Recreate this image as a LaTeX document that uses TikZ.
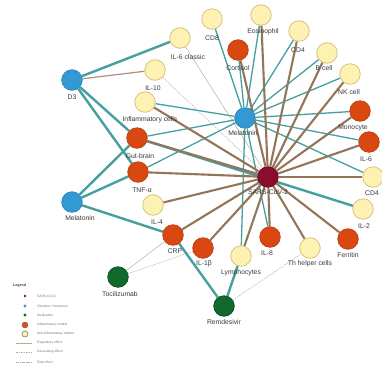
\documentclass[tikz,border=0pt]{standalone}
\usepackage{fontspec}
\setmainfont{Liberation Sans}
\usetikzlibrary{backgrounds}
\definecolor{tealc}{HTML}{45A09F}
\definecolor{brownc}{HTML}{93765A}
\definecolor{thinc}{HTML}{B8AE9E}
\definecolor{yelf}{HTML}{FDF2B2}
\definecolor{yeld}{HTML}{D8C27E}
\definecolor{oranf}{HTML}{DA4812}
\definecolor{orand}{HTML}{C2400F}
\definecolor{bluef}{HTML}{3399D5}
\definecolor{blued}{HTML}{2D88BE}
\definecolor{maroonf}{HTML}{8A0C2E}
\definecolor{greenf}{HTML}{11692B}
\definecolor{labc}{HTML}{3A3A3A}
\begin{document}
\begin{tikzpicture}[x=1pt,y=-1pt,
  nd/.style={circle,minimum size=20.5pt,inner sep=0pt,line width=0.8pt},
  yel/.style={nd,fill=yelf,draw=yeld},
  ora/.style={nd,fill=oranf,draw=orand},
  blu/.style={nd,fill=bluef,draw=blued},
  cov/.style={nd,fill=maroonf,draw=maroonf!80!black},
  grn/.style={nd,fill=greenf,draw=greenf!80!black},
  lab/.style={text=labc,font=\fontsize{6.8}{7.5}\selectfont,inner sep=0.5pt},
  leg/.style={text=labc!70,font=\fontsize{3.3}{4}\selectfont,inner sep=0pt,anchor=west},
  te/.style={draw=tealc,line width=2.4pt},
  tem/.style={draw=tealc,line width=1.3pt},
  br/.style={draw=brownc,line width=2.1pt},
  thn/.style={draw=thinc,line width=0.5pt},
  dsh/.style={draw=thinc,line width=0.5pt,dash pattern=on 1.5pt off 1pt}]
\useasboundingbox (0,0) rectangle (382,368);
% nodes
\node[cov] (cov) at (268,177) {};
\node[blu] (vb) at (245,118) {};
\node[blu] (d3) at (72,80) {};
\node[blu] (mel) at (72,202) {};
\node[grn] (toc) at (118,277) {};
\node[grn] (rem) at (224,306) {};
\node[yel] (il6c) at (180,38) {};
\node[yel] (il10) at (155,70) {};
\node[yel] (infl) at (145,102) {};
\node[yel] (cd8) at (212,19) {};
\node[yel] (eos) at (261,15) {};
\node[yel] (cd4a) at (299,31) {};
\node[yel] (bcell) at (327,53) {};
\node[yel] (nk) at (350,74) {};
\node[yel] (cd4b) at (373,177) {};
\node[yel] (il2) at (363,209) {};
\node[yel] (th) at (310,248) {};
\node[yel] (lym) at (241,256) {};
\node[yel] (il4) at (153,205) {};
\node[ora] (cort) at (238,50) {};
\node[ora] (mono) at (360,111) {};
\node[ora] (il6) at (369,142) {};
\node[ora] (ferr) at (348,239) {};
\node[ora] (il8) at (270,237) {};
\node[ora] (il1b) at (203,248) {};
\node[ora] (crp) at (173,235) {};
\node[ora] (tnf) at (138,172) {};
\node[ora] (gut) at (137,138) {};
% labels
\node[lab] (l-cov) at (268,192) {SARS-CoV-2};
\node[lab] (l-vb) at (243,133) {Melatonin};
\node[lab] (l-d3) at (72,97) {D3};
\node[lab] (l-mel) at (80,218) {Melatonin};
\node[lab] (l-toc) at (120,294) {Tocilizumab};
\node[lab] (l-rem) at (224,322) {Remdesivir};
\node[lab] (l-il6c) at (188,57) {IL-6 classic};
\node[lab] (l-il10) at (153,88) {IL-10};
\node[lab] (l-infl) at (150,120) {Inflammatory cells};
\node[lab] (l-cd8) at (212,38) {CD8};
\node[lab] (l-eos) at (263,32) {Eosinophil};
\node[lab] (l-cd4a) at (298,50) {CD4};
\node[lab] (l-bcell) at (324,68) {B cell};
\node[lab] (l-nk) at (349,92) {NK cell};
\node[lab] (l-cd4b) at (372,193) {CD4};
\node[lab] (l-il2) at (364,226) {IL-2};
\node[lab] (l-th) at (310,264) {Th helper cells};
\node[lab] (l-lym) at (241,273) {Lymphocytes};
\node[lab] (l-il4) at (157,222) {IL-4};
\node[lab] (l-cort) at (238,68) {Cortisol};
\node[lab] (l-mono) at (353,128) {Monocyte};
\node[lab] (l-il6) at (366,159) {IL-6};
\node[lab] (l-ferr) at (348,255) {Ferritin};
\node[lab] (l-il8) at (267,253) {IL-8};
\node[lab] (l-il1b) at (204,264) {IL-1β};
\node[lab] (l-crp) at (175,251) {CRP};
\node[lab] (l-tnf) at (142,190) {TNF-α};
\node[lab] (l-gut) at (140,156) {Gut-brain};
% legend
\node[text=labc,font=\bfseries\fontsize{3.6}{4}\selectfont,inner sep=0pt,anchor=west] (lg) at (13,286) {Legend};
\node[circle,fill=maroonf,inner sep=0pt,minimum size=2.6pt] (g1) at (25,296) {};
\node[leg] (t1) at (37,296) {SARS-CoV-2};
\node[circle,fill=bluef,inner sep=0pt,minimum size=3.4pt] (g2) at (25,306) {};
\node[leg] (t2) at (37,306) {Vitamins / Hormones};
\node[circle,fill=greenf,inner sep=0pt,minimum size=3.4pt] (g3) at (25,315) {};
\node[leg] (t3) at (37,315) {Medication};
\node[circle,fill=oranf!70!brownc,draw=orand,inner sep=0pt,minimum size=6pt] (g4) at (25,325) {};
\node[leg] (t4) at (37,325) {Inflammatory marker};
\node[circle,fill=yelf,draw=greenf!60!yeld,line width=0.6pt,inner sep=0pt,minimum size=6pt] (g5) at (25,334) {};
\node[leg] (t5) at (37,334) {Anti-inflammatory marker};
\coordinate (a6) at (16,343); \coordinate (b6) at (32,343);
\node[leg] (t6) at (37,343) {Regulatory effect};
\coordinate (a7) at (16,352); \coordinate (b7) at (32,352);
\node[leg] (t7) at (37,352) {Decreasing effect};
\coordinate (a8) at (16,362); \coordinate (b8) at (32,362);
\node[leg] (t8) at (37,362) {Side effect};
\begin{pgfonlayer}{background}
\fill[white] (0,0) rectangle (382,368);
\draw[thn] (a6) -- (b6);
\draw[dsh] (a7) -- (b7);
\draw[draw=thinc,line width=0.5pt,dash pattern=on 3pt off 1pt on 0.6pt off 1pt] (a8) -- (b8);
% thin edges
\draw[thn] (il6c) -- (cov);
\draw[dsh] (il10) -- (cov);
\draw[thn] (toc) -- (crp);
\draw[dsh] (toc) -- (il1b);
\draw[dsh] (rem) -- (th);
% vitamin edges
\foreach \t in {cd8,cort,eos,cd4a,bcell,nk,mono,il6,cd4b,infl,gut,tnf,lym,il8}
  \draw[tem] (vb) -- (\t);
\draw[te] (d3) -- (il6c);
\draw[draw=brownc!80,line width=1.2pt] (d3) -- (il10);
\draw[te] (d3) -- (gut);
\draw[te] (d3) -- (tnf);
\draw[te] (mel) -- (gut);
\draw[te] (mel) -- (tnf);
\draw[te] (mel) -- (crp);
\draw[te] (gut) -- (il2);
\draw[te] (crp) -- (rem);
\draw[te] (lym) -- (rem);
% covid edges
\foreach \t in {eos,cd4a,bcell,nk,mono,il6,cd4b,ferr,th,il8,lym,il1b,crp,il4,tnf,gut,infl,cort}
  \draw[br] (cov) -- (\t);
\end{pgfonlayer}
\end{tikzpicture}
\end{document}
